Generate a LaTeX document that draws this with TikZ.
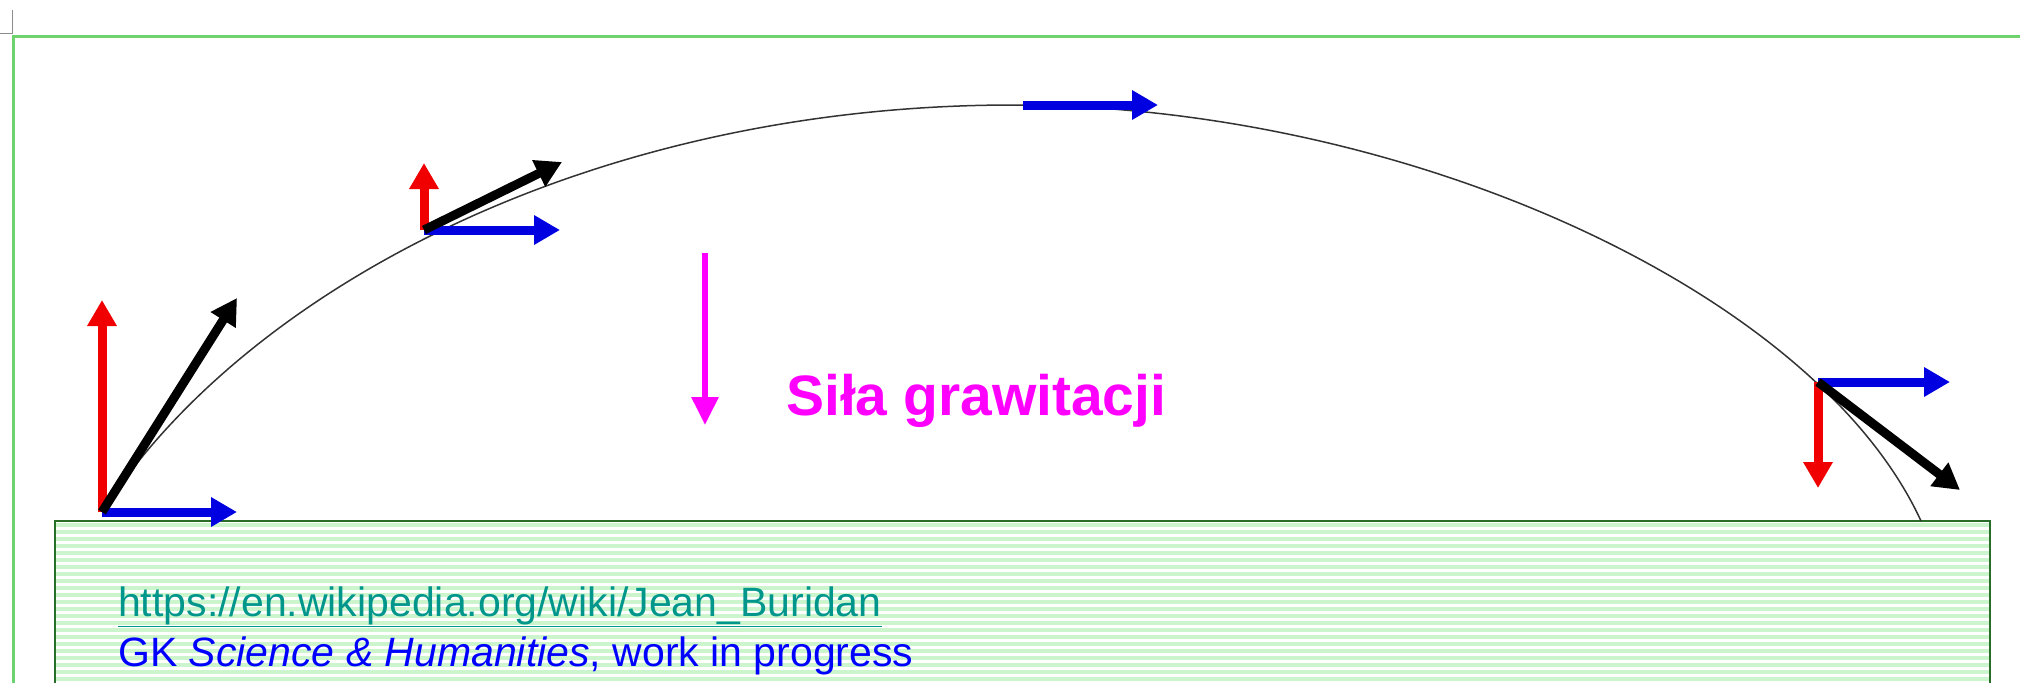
\documentclass[tikz,border=0pt]{standalone}
\usepackage{fontspec}
\setmainfont{Liberation Sans}
\usetikzlibrary{arrows.meta}
\definecolor{framegreen}{RGB}{110,210,110}
\definecolor{groundgreen}{RGB}{40,110,40}
\definecolor{stripegreen}{RGB}{205,245,205}
\definecolor{vblue}{RGB}{0,0,225}
\definecolor{vred}{RGB}{240,0,0}
\definecolor{gmagenta}{RGB}{255,0,255}
\definecolor{linkteal}{RGB}{0,150,140}
\definecolor{textblue}{RGB}{0,0,255}
\tikzset{
    vec/.style={line width=9pt, -{Triangle[length=26pt,width=28pt]}},
    vx/.style={vec, vblue},
    vy/.style={vec, vred},
    vv/.style={vec, black},
    trajectory/.style={line width=1.5pt, black!80},
    groundstripe/.style={line width=3.5pt, stripegreen}
}

\begin{document}
\begin{tikzpicture}[x=1pt, y=-1pt]
    % Init
    \useasboundingbox (0,0) rectangle (2020,683);
    \draw[black!45, line width=1pt] (12,10) -- (12,33) -- (0,33);
    \draw[framegreen, line width=3pt] (13,683) -- (13,36) -- (2020,36);
    % 1. ground
    \foreach \y in {525,532,...,683}
        \draw[groundstripe] (55,\y) -- (1990,\y);
    \draw[groundgreen, line width=2pt] (55,683) -- (55,521) -- (1990,521) -- (1990,683);
    % 2. def point
    \coordinate (O1) at (102,512);
    \coordinate (O1x) at (237,512);
    \coordinate (O1y) at (102,300);
    \coordinate (O1v) at (237,298);
    \coordinate (O2) at (424,230);
    \coordinate (O2x) at (560,230);
    \coordinate (O2y) at (424,163);
    \coordinate (O2v) at (562,162);
    \coordinate (O3) at (1023,105);
    \coordinate (O3x) at (1158,105);
    \coordinate (O4) at (1818,382);
    \coordinate (O4x) at (1950,382);
    \coordinate (O4y) at (1818,488);
    \coordinate (O4v) at (1960,490);
    \coordinate (top) at (1010,105);
    \coordinate (hit) at (1921,521);
    \coordinate (G) at (705,253);
    \coordinate (Gt) at (705,425);
    % 3. trajectory
    \draw[trajectory] (O1) .. controls (242,293) and (585,106) .. (top)
        .. controls (1410,105) and (1816,293) .. (hit);
    % 4. velocity
    \draw[vy] (O1) -- (O1y);
    \draw[vx] (O1) -- (O1x);
    \draw[vv] (O1) -- (O1v);
    \draw[vy] (O2) -- (O2y);
    \draw[vx] (O2) -- (O2x);
    \draw[vv] (O2) -- (O2v);
    \draw[vx] (O3) -- (O3x);
    \draw[vy] (O4) -- (O4y);
    \draw[vx] (O4) -- (O4x);
    \draw[vv] (O4) -- (O4v);
    % 5. gravity
    \draw[gmagenta, line width=6pt, -{Triangle[length=28pt,width=26pt]}] (G) -- (Gt);
    \node[anchor=base west, inner sep=0pt, text=gmagenta, font=\fontsize{57}{62}\selectfont\bfseries]
        (gravity) at (786,415) {Siła grawitacji};
    % 6. source
    \node[anchor=base west, inner sep=0pt, text=linkteal, font=\fontsize{41}{48}\selectfont]
        (link) at (118,616) {\underline{https://en.wikipedia.org/wiki/Jean\_Buridan}};
    \node[anchor=base west, inner sep=0pt, text=textblue, font=\fontsize{41}{48}\selectfont]
        (credit) at (118,666) {GK \textit{Science \& Humanities}, work in progress};
\end{tikzpicture}
\end{document}
